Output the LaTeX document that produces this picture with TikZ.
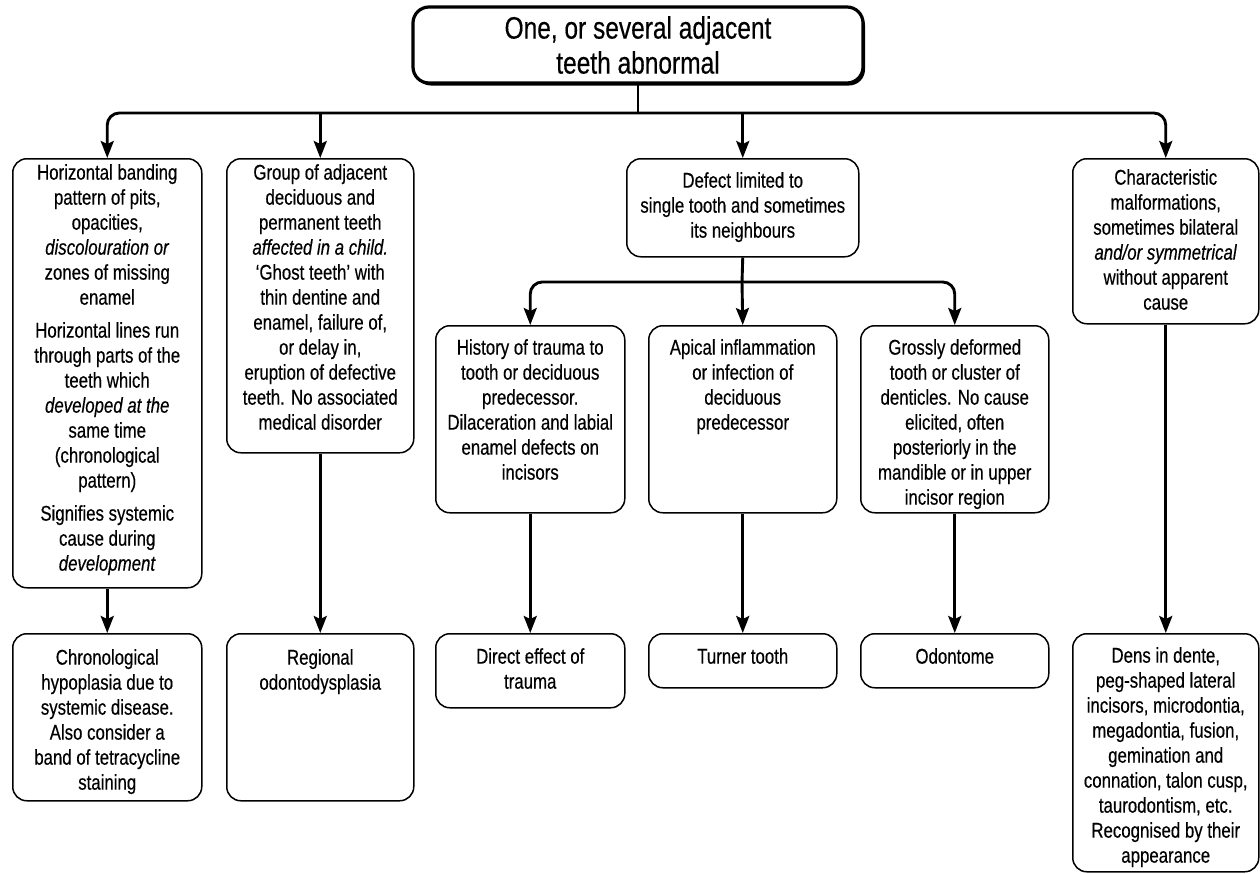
\documentclass[tikz,border=0pt]{standalone}
\usepackage{fontspec}
\setmainfont{Liberation Sans}[FakeStretch=0.79,FakeBold=0.4]
\usetikzlibrary{arrows.meta,shadows}
\begin{document}
\begin{tikzpicture}[x=1pt,y=-1pt,
  box/.style={draw, line width=1.5pt, rounded corners=14pt, anchor=north west, inner sep=0pt},
  txt/.style={inner sep=0pt, align=center, anchor=north, font=\fontsize{21.3}{25}\selectfont},
  topbox/.style={draw, line width=3.2pt, rounded corners=16pt, fill=white, align=center,
    font=\fontsize{31}{35}\selectfont, inner sep=0pt,
    drop shadow={shadow xshift=2pt, shadow yshift=-2.5pt, fill=black, opacity=1}},
  conn/.style={line width=2.9pt},
  arr/.style={conn, -{Stealth[length=17pt,width=13pt,inset=3pt]}},
]
\useasboundingbox (0,0) rectangle (1260,873);

% top box
\node[topbox, minimum width=450pt, minimum height=76pt] (top) at (638,45) {One, or several adjacent\\teeth abnormal};

% level 1 boxes
\node[box, minimum width=189pt, minimum height=429pt] (b1) at (12,158) {};
\node[box, minimum width=187pt, minimum height=294pt] (b2) at (226,158) {};
\node[box, minimum width=232pt, minimum height=98pt] (b3) at (626,158) {};
\node[box, minimum width=186pt, minimum height=165pt] (b5) at (1072,158) {};

% level 2 boxes
\node[box, minimum width=189pt, minimum height=187pt] (hist) at (435,325) {};
\node[box, minimum width=188pt, minimum height=187pt] (apic) at (648,325) {};
\node[box, minimum width=188pt, minimum height=187pt] (gros) at (860,325) {};

% bottom boxes
\node[box, minimum width=189pt, minimum height=167pt] (chron) at (12,633) {};
\node[box, minimum width=187pt, minimum height=167pt] (reg) at (226,633) {};
\node[box, minimum width=189pt, minimum height=74pt] (direct) at (435,633) {};
\node[box, minimum width=188pt, minimum height=54pt] (turner) at (648,633) {};
\node[box, minimum width=188pt, minimum height=54pt] (odont) at (860,633) {};
\node[box, minimum width=186pt, minimum height=238pt] (dens) at (1072,633) {};

% texts
\node[txt] (b1t) at ([yshift=-6pt]b1.north) {Horizontal banding\\pattern of pits,\\opacities,\\\textit{discolouration or}\\zones of missing\\enamel\\[8pt]Horizontal lines run\\through parts of the\\teeth which\\\textit{developed at the}\\same time\\(chronological\\pattern)\\[8pt]Signifies systemic\\cause during\\\textit{development}};
\node[txt] (b2t) at ([yshift=-6pt]b2.north) {Group of adjacent\\deciduous and\\permanent teeth\\\textit{affected in a child.}\\`Ghost teeth' with\\thin dentine and\\enamel, failure of,\\or delay in,\\eruption of defective\\teeth. No associated\\medical disorder};
\node[txt] (b3t) at ([yshift=-14pt]b3.north) {Defect limited to\\single tooth and sometimes\\its neighbours};
\node[txt] (b5t) at ([yshift=-11pt]b5.north) {Characteristic\\malformations,\\sometimes bilateral\\\textit{and/or symmetrical}\\without apparent\\cause};
\node[txt] (histt) at ([yshift=-14pt]hist.north) {History of trauma to\\tooth or deciduous\\predecessor.\\Dilaceration and labial\\enamel defects on\\incisors};
\node[txt] (apict) at ([yshift=-14pt]apic.north) {Apical inflammation\\or infection of\\deciduous\\predecessor};
\node[txt] (grost) at ([yshift=-14pt]gros.north) {Grossly deformed\\tooth or cluster of\\denticles. No cause\\elicited, often\\posteriorly in the\\mandible or in upper\\incisor region};
\node[txt] (chront) at ([yshift=-16pt]chron.north) {Chronological\\hypoplasia due to\\systemic disease.\\Also consider a\\band of tetracycline\\staining};
\node[txt] (regt) at ([yshift=-16pt]reg.north) {Regional\\odontodysplasia};
\node[txt] (directt) at ([yshift=-15pt]direct.north) {Direct effect of\\trauma};
\node[txt] (turnert) at ([yshift=-15pt]turner.north) {Turner tooth};
\node[txt] (odontt) at ([yshift=-15pt]odont.north) {Odontome};
\node[txt] (denst) at ([yshift=-14pt]dens.north) {Dens in dente,\\peg-shaped lateral\\incisors, microdontia,\\megadontia, fusion,\\gemination and\\connation, talon cusp,\\taurodontism, etc.\\Recognised by their\\appearance};

% connectors
\coordinate (j1) at (638,113);
\coordinate (j2) at (742,282);
\draw[conn] (top.south) -- (j1);
\draw[arr, rounded corners=12pt] (j1) -| (b1.north);
\draw[arr, rounded corners=12pt] (j1) -| (b5.north);
\draw[arr] (b2.north |- j1) -- (b2.north);
\draw[arr] (b3.north |- j1) -- (b3.north);

\draw[conn] (b3.south) -- (j2);
\draw[arr, rounded corners=12pt] (j2) -| (hist.north);
\draw[arr, rounded corners=12pt] (j2) -| (gros.north);
\draw[arr] (j2) -- (apic.north);

\draw[arr] (b1.south) -- (chron.north);
\draw[arr] (b2.south) -- (reg.north);
\draw[arr] (hist.south) -- (direct.north);
\draw[arr] (apic.south) -- (turner.north);
\draw[arr] (gros.south) -- (odont.north);
\draw[arr] (b5.south) -- (dens.north);
\end{tikzpicture}
\end{document}
